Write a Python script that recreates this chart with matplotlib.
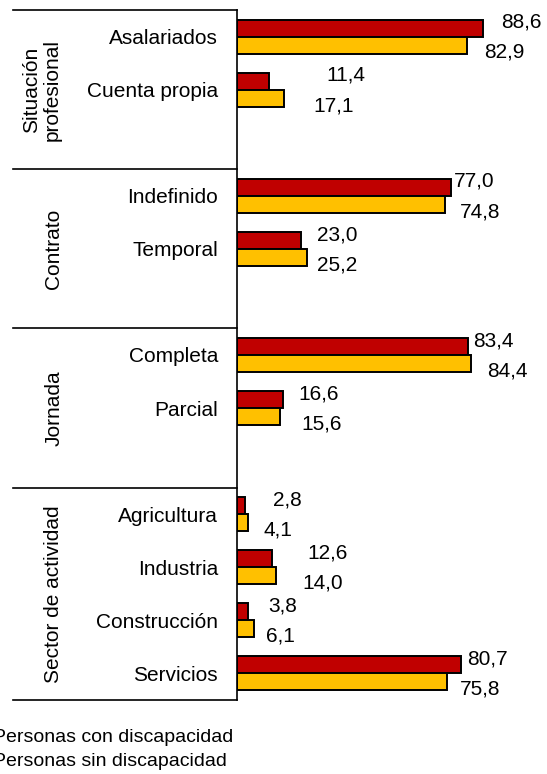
import numpy as np
import matplotlib
matplotlib.use("Agg")
import matplotlib.pyplot as plt
import matplotlib.transforms as mtransforms

plt.rcParams['font.family'] = ['Liberation Sans', 'DejaVu Sans']

# Data (percentages)
groups = ['Situación\nprofesional', 'Contrato', 'Jornada', 'Sector de actividad']
group_sizes = [2, 2, 2, 4]
categories = ['Asalariados', 'Cuenta propia',
              'Indefinido', 'Temporal',
              'Completa', 'Parcial',
              'Agricultura', 'Industria', 'Construcción', 'Servicios']
con_discapacidad = [88.6, 11.4, 77.0, 23.0, 83.4, 16.6, 2.8, 12.6, 3.8, 80.7]
sin_discapacidad = [82.9, 17.1, 74.8, 25.2, 84.4, 15.6, 4.1, 14.0, 6.1, 75.8]
series_names = ['Personas con discapacidad', 'Personas sin discapacidad']

# manual nudges of the value labels (data units), as in the original
dx_con = [6.5, 20.7, 1.2, 5.8, 1.7, 5.4, 10.2, 12.6, 7.4, 2.2]
dx_sin = [6.3, 10.3, 5.6, 3.6, 5.7, 7.5, 5.3, 9.4, 4.4, 4.6]

red = '#C00000'
yellow = '#FFC000'

# slot positions: one blank slot between groups
pos = []
group_bounds = []
start = 0
for i, size in enumerate(group_sizes):
    end = start + size - 0.5 + (1 if i < len(group_sizes) - 1 else 0)
    group_bounds.append((start - 0.5, end))
    pos.extend(range(start, start + size))
    start += size + 1
pos = np.array(pos, dtype=float)
n_slots = int(pos[-1]) + 1

W, H = 547, 774
fig = plt.figure(figsize=(W / 100, H / 100), dpi=100)
ax = fig.add_axes([237 / W, 1 - 700 / H, (W - 237) / W, 690 / H])

bh = 0.32
ax.barh(pos - bh / 2, con_discapacidad, height=bh, color=red,
        edgecolor='black', linewidth=1.4, label=series_names[0])
ax.barh(pos + bh / 2, sin_discapacidad, height=bh, color=yellow,
        edgecolor='black', linewidth=1.4, label=series_names[1])

ax.set_xlim(0, (W - 237) / 2.775)
ax.set_ylim(n_slots - 0.5, -0.5)

for p, v, dx in zip(pos, con_discapacidad, dx_con):
    ax.text(v + dx, p - 0.27, f"{v:.1f}".replace('.', ','), ha='left', va='center',
            fontsize=15, clip_on=False)
for p, v, dx in zip(pos, sin_discapacidad, dx_sin):
    ax.text(v + dx, p + 0.30, f"{v:.1f}".replace('.', ','), ha='left', va='center',
            fontsize=15, clip_on=False)

ax.set_yticks(pos)
ax.set_yticklabels(categories, fontsize=15)
ax.tick_params(axis='y', length=0, pad=13.7)
ax.set_xticks([])
for s in ['top', 'right', 'bottom']:
    ax.spines[s].set_visible(False)
ax.spines['left'].set_linewidth(1.2)

# group separators and group labels on the left
trans = mtransforms.blended_transform_factory(ax.transAxes, ax.transData)
x_left = -(237 - 13) / (W - 237)
edges = sorted(set([b for g in group_bounds for b in g]))
for y in edges:
    ax.plot([x_left, 0], [y, y], color='black', lw=1.2, transform=trans, clip_on=False)

for (g0, g1), name in zip(group_bounds, groups):
    xg = (42 - 237) / (W - 237) if '\n' in name else (54 - 237) / (W - 237)
    ax.text(xg, (g0 + g1) / 2, name, rotation=90, ha='center', va='center',
            fontsize=15, transform=trans, multialignment='center', linespacing=1.15)

# legend (markers fall outside the picture, as in the original)
fig.text(-7 / W, 1 - 738 / H, series_names[0], ha='left', va='center', fontsize=14)
fig.text(-7 / W, 1 - 761 / H, series_names[1], ha='left', va='center', fontsize=14)

fig.savefig('out.png', dpi=100)
